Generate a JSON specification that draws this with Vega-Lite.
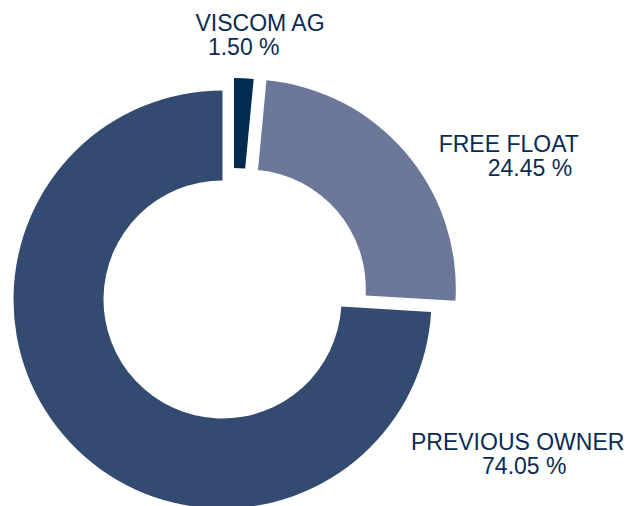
{
  "$schema": "https://vega.github.io/schema/vega-lite/v6.json",
  "width": 464,
  "height": 424,
  "autosize": {"type": "none"},
  "padding": {"left": 0, "top": 82, "right": 165, "bottom": 0},
  "background": "white",
  "config": {"view": {"stroke": null}},
  "data": {
    "values": [
      {"holder": "VISCOM AG", "value": 1.5, "label": "1.50 %", "order": 1},
      {"holder": "FREE FLOAT", "value": 24.45, "label": "24.45 %", "order": 2},
      {"holder": "PREVIOUS OWNER", "value": 74.05, "label": "74.05 %", "order": 3}
    ]
  },
  "transform": [
    {"stack": "value", "groupby": [], "sort": [{"field": "order", "order": "ascending"}], "as": ["v0", "v1"]}
  ],
  "encoding": {
    "theta": {"field": "v0", "type": "quantitative", "scale": {"domain": [0, 100]}}
  },
  "layer": [
    {
      "transform": [{"filter": "datum.holder === 'PREVIOUS OWNER'"}],
      "mark": {"type": "arc", "radius": 209, "radius2": 119, "xOffset": -9.5, "yOffset": 5.5, "color": "#334b70"},
      "encoding": {"theta2": {"field": "v1"}}
    },
    {
      "transform": [{"filter": "datum.holder === 'FREE FLOAT'"}],
      "mark": {"type": "arc", "radius": 209, "radius2": 119, "xOffset": 14.8, "yOffset": -5.6, "color": "#6c7899"},
      "encoding": {"theta2": {"field": "v1"}}
    },
    {
      "transform": [{"filter": "datum.holder === 'VISCOM AG'"}],
      "mark": {"type": "arc", "radius": 209, "radius2": 119, "xOffset": 2, "yOffset": -7, "color": "#022b52"},
      "encoding": {"theta2": {"field": "v1"}}
    },
    {
      "transform": [{"filter": "datum.holder === 'VISCOM AG'"}],
      "mark": {"type": "text", "radius": 252, "dx": 28, "dy": -11.3, "align": "center", "baseline": "alphabetic", "font": "Liberation Sans", "fontSize": 23, "color": "#0b2b53"},
      "encoding": {"text": {"field": "holder"}}
    },
    {
      "transform": [{"filter": "datum.holder === 'VISCOM AG'"}],
      "mark": {"type": "text", "radius": 252, "dx": 11.7, "dy": 13, "align": "center", "baseline": "alphabetic", "font": "Liberation Sans", "fontSize": 23, "color": "#0b2b53"},
      "encoding": {"text": {"field": "label"}}
    },
    {
      "transform": [{"filter": "datum.holder === 'FREE FLOAT'"}],
      "mark": {"type": "text", "radius": 140, "dx": 263.6, "dy": -2.4, "align": "center", "baseline": "alphabetic", "font": "Liberation Sans", "fontSize": 23, "color": "#0b2b53"},
      "encoding": {"text": {"field": "holder"}}
    },
    {
      "transform": [{"filter": "datum.holder === 'FREE FLOAT'"}],
      "mark": {"type": "text", "radius": 140, "dx": 284.8, "dy": 21.8, "align": "center", "baseline": "alphabetic", "font": "Liberation Sans", "fontSize": 23, "color": "#0b2b53"},
      "encoding": {"text": {"field": "label"}}
    },
    {
      "transform": [{"filter": "datum.holder === 'PREVIOUS OWNER'"}],
      "mark": {"type": "text", "radius": 290, "dx": -3.8, "dy": 138.8, "align": "center", "baseline": "alphabetic", "font": "Liberation Sans", "fontSize": 23, "color": "#0b2b53"},
      "encoding": {"text": {"field": "holder"}}
    },
    {
      "transform": [{"filter": "datum.holder === 'PREVIOUS OWNER'"}],
      "mark": {"type": "text", "radius": 290, "dx": 2.8, "dy": 162.8, "align": "center", "baseline": "alphabetic", "font": "Liberation Sans", "fontSize": 23, "color": "#0b2b53"},
      "encoding": {"text": {"field": "label"}}
    }
  ]
}
